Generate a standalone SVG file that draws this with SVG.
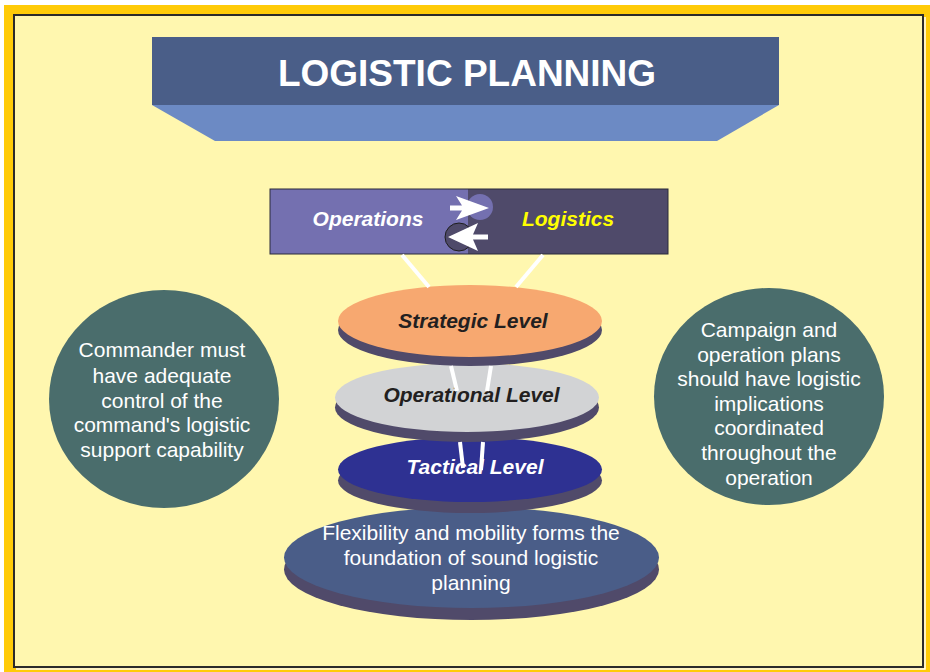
<svg xmlns="http://www.w3.org/2000/svg" width="930" height="672" viewBox="0 0 930 672">
<defs>
<style>
.bi{font-family:"Liberation Sans",Arial,sans-serif;font-weight:bold;font-style:italic;font-size:21px;text-anchor:middle}
.rg{font-family:"Liberation Sans",Arial,sans-serif;font-size:21px;fill:#ffffff;text-anchor:middle}
.sh{fill:#504A6A}
.conn{stroke:#ffffff;stroke-width:4;fill:none}
.circ{fill:#4A6D6C}
</style>
</defs>
<rect x="0" y="0" width="930" height="672" fill="#ffffff"/>
<rect x="4" y="5" width="926" height="667" fill="#FFCB08"/>
<rect x="14" y="15" width="909" height="652" fill="#FFF7AF" stroke="#2b2b2b" stroke-width="2"/>
<polyline points="925,17 925,669 16,669" fill="none" stroke="#ffffff" stroke-width="1.5"/>

<g id="title">
<polygon points="152,105 779,105 717,141 215,141" fill="#6C8AC4"/>
<rect x="152" y="37" width="627" height="68" fill="#4A5E88"/>
<text x="467" y="86" font-family="'Liberation Sans',Arial,sans-serif" font-weight="bold" font-size="37" fill="#ffffff" text-anchor="middle">LOGISTIC PLANNING</text>
</g>

<g id="ops-logistics">
<rect x="270" y="189" width="198" height="65" fill="#7470B0"/>
<rect x="468" y="189" width="200" height="65" fill="#4F4A6A"/>
<rect x="270" y="189" width="398" height="65" fill="none" stroke="#2b2b3b" stroke-width="1"/>
<circle cx="480" cy="207" r="13" fill="#7470B0"/>
<circle cx="459" cy="237" r="14" fill="#4F4A6A" stroke="#1e1e1e" stroke-width="1"/>
<polygon points="450,205.5 462,205.5 456,196 489,208 456,220 462,210.5 450,210.5" fill="#ffffff"/>
<polygon points="488,234.5 473,234.5 478,223 448,237 478,251 473,239.5 488,239.5" fill="#ffffff"/>
<text class="bi" x="368" y="226" fill="#ffffff">Operations</text>
<text class="bi" x="568" y="226" fill="#FFFF00">Logistics</text>
</g>

<g id="foundation">
<ellipse class="sh" cx="471.5" cy="569.5" rx="187.5" ry="50.5"/>
<ellipse cx="471.5" cy="557.5" rx="187.5" ry="50.5" fill="#4A5D88"/>
<text class="rg" x="471" y="540">Flexibility and mobility forms the</text>
<text class="rg" x="471" y="565">foundation of sound logistic</text>
<text class="rg" x="471" y="590">planning</text>
</g>

<g id="tactical">
<ellipse class="sh" cx="470" cy="480.5" rx="132" ry="32.5"/>
<ellipse cx="470" cy="469.5" rx="132" ry="32.5" fill="#2E3192"/>
</g>

<g id="operational">
<ellipse class="sh" cx="467" cy="407.5" rx="132" ry="34.5"/>
<ellipse cx="467" cy="397.5" rx="132" ry="34.5" fill="#D2D3D5"/>
<text class="bi" x="471.5" y="402" fill="#231F20">Operational Level</text>
</g>

<g id="strategic">
<ellipse class="sh" cx="470" cy="330" rx="132" ry="36"/>
<ellipse cx="470" cy="321" rx="132" ry="36" fill="#F7A870"/>
<text class="bi" x="473" y="328" fill="#231F20">Strategic Level</text>
</g>

<g id="connectors">
<line class="conn" x1="402" y1="255" x2="429" y2="287"/>
<line class="conn" x1="543" y1="255" x2="516" y2="287"/>
<line class="conn" x1="451" y1="366" x2="457" y2="391"/>
<line class="conn" x1="491" y1="366" x2="487" y2="391"/>
<line class="conn" x1="460" y1="442" x2="463" y2="468"/>
<line class="conn" x1="483" y1="442" x2="481" y2="470"/>
</g>

<g id="tactical-label">
<text class="bi" x="475" y="474" fill="#ffffff">Tactical Level</text>
</g>

<g id="commander">
<ellipse class="circ" cx="164" cy="399" rx="115" ry="109"/>
<text class="rg" x="162" y="357">Commander must</text>
<text class="rg" x="162" y="383">have adequate</text>
<text class="rg" x="162" y="408">control of the</text>
<text class="rg" x="162" y="432">command's logistic</text>
<text class="rg" x="162" y="457">support capability</text>
</g>

<g id="campaign">
<ellipse class="circ" cx="769" cy="396.5" rx="115" ry="108.5"/>
<text class="rg" x="769" y="337">Campaign and</text>
<text class="rg" x="769" y="362">operation plans</text>
<text class="rg" x="769" y="386">should have logistic</text>
<text class="rg" x="769" y="411">implications</text>
<text class="rg" x="769" y="435">coordinated</text>
<text class="rg" x="769" y="460">throughout the</text>
<text class="rg" x="769" y="485">operation</text>
</g>
</svg>
